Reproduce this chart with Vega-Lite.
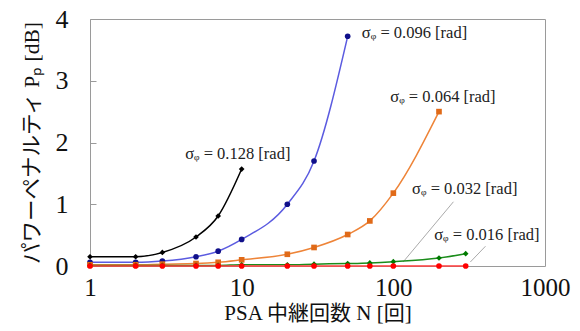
{
  "$schema": "https://vega.github.io/schema/vega-lite/v6.json",
  "width": 455,
  "height": 247,
  "autosize": "none",
  "padding": {"left": 90, "top": 19, "right": 35, "bottom": 65},
  "background": "white",
  "config": {
    "view": {"stroke": "#9a9a9a", "strokeWidth": 1},
    "font": "Liberation Serif",
    "axis": {"grid": false, "domain": false, "labelColor": "#111", "titleColor": "#111", "titleFontWeight": "normal", "labelFont": "Liberation Serif", "titleFont": "Liberation Serif, Noto Sans CJK JP"}
  },
  "datasets": {
    "curves": [
      {"series": "0.128", "N": 1, "P": 0.15},
      {"series": "0.128", "N": 2, "P": 0.15},
      {"series": "0.128", "N": 3, "P": 0.22},
      {"series": "0.128", "N": 5, "P": 0.47},
      {"series": "0.128", "N": 7, "P": 0.81},
      {"series": "0.128", "N": 10, "P": 1.57},
      {"series": "0.096", "N": 1, "P": 0.06},
      {"series": "0.096", "N": 2, "P": 0.06},
      {"series": "0.096", "N": 3, "P": 0.08},
      {"series": "0.096", "N": 5, "P": 0.15},
      {"series": "0.096", "N": 7, "P": 0.24},
      {"series": "0.096", "N": 10, "P": 0.43},
      {"series": "0.096", "N": 20, "P": 1.0},
      {"series": "0.096", "N": 30, "P": 1.70},
      {"series": "0.096", "N": 50, "P": 3.72},
      {"series": "0.064", "N": 1, "P": 0.02},
      {"series": "0.064", "N": 2, "P": 0.02},
      {"series": "0.064", "N": 3, "P": 0.03},
      {"series": "0.064", "N": 5, "P": 0.04},
      {"series": "0.064", "N": 7, "P": 0.06},
      {"series": "0.064", "N": 10, "P": 0.10},
      {"series": "0.064", "N": 20, "P": 0.19},
      {"series": "0.064", "N": 30, "P": 0.30},
      {"series": "0.064", "N": 50, "P": 0.51},
      {"series": "0.064", "N": 70, "P": 0.73},
      {"series": "0.064", "N": 100, "P": 1.18},
      {"series": "0.064", "N": 200, "P": 2.50},
      {"series": "0.032", "N": 1, "P": 0.01},
      {"series": "0.032", "N": 2, "P": 0.01},
      {"series": "0.032", "N": 3, "P": 0.01},
      {"series": "0.032", "N": 5, "P": 0.01},
      {"series": "0.032", "N": 7, "P": 0.01},
      {"series": "0.032", "N": 10, "P": 0.02},
      {"series": "0.032", "N": 20, "P": 0.02},
      {"series": "0.032", "N": 30, "P": 0.03},
      {"series": "0.032", "N": 50, "P": 0.04},
      {"series": "0.032", "N": 70, "P": 0.05},
      {"series": "0.032", "N": 100, "P": 0.07},
      {"series": "0.032", "N": 200, "P": 0.13},
      {"series": "0.032", "N": 300, "P": 0.20},
      {"series": "0.016", "N": 1, "P": 0.0},
      {"series": "0.016", "N": 2, "P": 0.0},
      {"series": "0.016", "N": 3, "P": 0.0},
      {"series": "0.016", "N": 5, "P": 0.0},
      {"series": "0.016", "N": 7, "P": 0.0},
      {"series": "0.016", "N": 10, "P": 0.0},
      {"series": "0.016", "N": 20, "P": 0.0},
      {"series": "0.016", "N": 30, "P": 0.0},
      {"series": "0.016", "N": 50, "P": 0.0},
      {"series": "0.016", "N": 70, "P": 0.0},
      {"series": "0.016", "N": 100, "P": 0.0},
      {"series": "0.016", "N": 200, "P": 0.0},
      {"series": "0.016", "N": 300, "P": 0.0}
    ],
    "labels": [
      {"text": "σᵩ = 0.128 [rad]", "N": 4.24, "P": 1.81},
      {"text": "σᵩ = 0.096 [rad]", "N": 62, "P": 3.77},
      {"text": "σᵩ = 0.064 [rad]", "N": 95.5, "P": 2.73},
      {"text": "σᵩ = 0.032 [rad]", "N": 133, "P": 1.24},
      {"text": "σᵩ = 0.016 [rad]", "N": 186, "P": 0.50}
    ],
    "leaders": [
      {"N": 116, "P": 0.065, "N2": 249, "P2": 1.04},
      {"N": 322, "P": 0.065, "N2": 405, "P2": 0.32}
    ]
  },
  "layer": [
    {
      "data": {"name": "leaders"},
      "mark": {"type": "rule", "color": "#aaaaaa", "strokeWidth": 1},
      "encoding": {
        "x": {"field": "N", "type": "quantitative", "scale": {"type": "log", "domain": [1, 1000]}},
        "y": {"field": "P", "type": "quantitative", "scale": {"domain": [0, 4]}},
        "x2": {"field": "N2"},
        "y2": {"field": "P2"}
      }
    },
    {
      "data": {"name": "curves"},
      "mark": {"type": "line", "interpolate": "monotone", "strokeWidth": 1.5},
      "encoding": {
        "x": {"field": "N", "type": "quantitative", "scale": {"type": "log", "domain": [1, 1000]},
          "axis": {"values": [1, 10, 100, 1000], "format": "d", "ticks": false, "labelFontSize": 25, "labelPadding": 9, "labelFlush": false, "title": "PSA 中継回数  N [回]", "titleFontSize": 21, "titlePadding": 2}},
        "y": {"field": "P", "type": "quantitative", "scale": {"domain": [0, 4]},
          "axis": {"values": [0, 1, 2, 3, 4], "format": "d", "tickSize": -6, "tickColor": "#9a9a9a", "labelFontSize": 26, "labelPadding": 28, "title": "パワーペナルティ  Pₚ [dB]", "titleFontSize": 21.5, "titlePadding": 12}},
        "stroke": {"field": "series", "type": "nominal", "legend": null,
          "scale": {"domain": ["0.128", "0.096", "0.064", "0.032", "0.016"], "range": ["#000000", "#5b5be0", "#ee8438", "#1a8c1a", "#ff3b3b"]}},
        "order": {"field": "N", "type": "quantitative"}
      }
    },
    {
      "data": {"name": "curves"},
      "mark": {"type": "point", "filled": true, "opacity": 1, "size": 32},
      "encoding": {
        "x": {"field": "N", "type": "quantitative"},
        "y": {"field": "P", "type": "quantitative"},
        "fill": {"field": "series", "type": "nominal", "legend": null,
          "scale": {"domain": ["0.128", "0.096", "0.064", "0.032", "0.016"], "range": ["#000000", "#10108a", "#e06a18", "#007a00", "#ff0000"]}},
        "shape": {"field": "series", "type": "nominal", "legend": null,
          "scale": {"domain": ["0.128", "0.096", "0.064", "0.032", "0.016"], "range": ["diamond", "circle", "square", "diamond", "circle"]}}
      }
    },
    {
      "data": {"name": "labels"},
      "mark": {"type": "text", "align": "left", "baseline": "middle", "fontSize": 16.5, "font": "Liberation Serif, DejaVu Serif, DejaVu Sans", "color": "#222"},
      "encoding": {
        "x": {"field": "N", "type": "quantitative"},
        "y": {"field": "P", "type": "quantitative"},
        "text": {"field": "text"}
      }
    }
  ]
}
